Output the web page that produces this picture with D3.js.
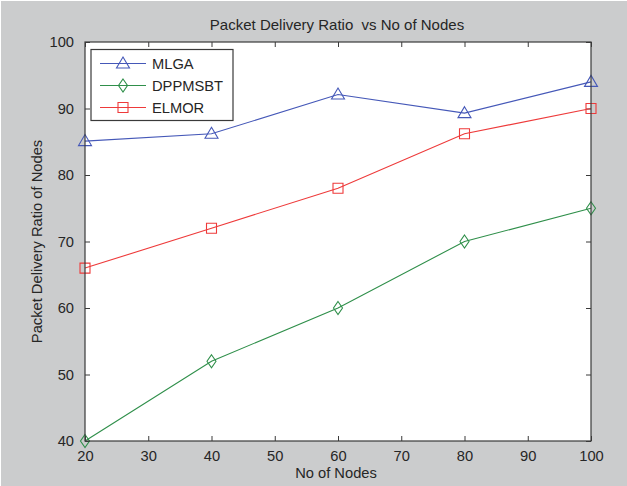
<!DOCTYPE html>
<html>
<head>
<meta charset="utf-8">
<script src="https://cdn.jsdelivr.net/npm/d3@7/dist/d3.min.js"></script>
<style>
  html, body { margin: 0; padding: 0; background: #ffffff; }
  svg { display: block; }
  text { font-family: "Liberation Sans", Arial, sans-serif; fill: #262626; white-space: pre; }
</style>
</head>
<body>
<svg id="chart" width="627" height="486"></svg>
<script>
// Number of nodes on the x axis
const nodes = [20, 40, 60, 80, 100];

// Packet delivery ratio for each protocol
const mlga    = [85.1, 86.2, 92.1, 89.3, 94.0];
const dppmsbt = [40.0, 52.0, 60.0, 70.0, 75.0];
const elmor   = [66.0, 72.0, 78.0, 86.2, 90.0];

const seriesNames = ["MLGA", "DPPMSBT", "ELMOR"];
const xTicks = [20, 30, 40, 50, 60, 70, 80, 90, 100];
const yTicks = [40, 50, 60, 70, 80, 90, 100];

const titleText = "Packet Delivery Ratio  vs No of Nodes";
const xLabel = "No of Nodes";
const yLabel = "Packet Delivery Ratio of Nodes";

const series = [
  { name: seriesNames[0], values: mlga,    color: "#4558b8", marker: "triangle" },
  { name: seriesNames[1], values: dppmsbt, color: "#2f8f4a", marker: "diamond" },
  { name: seriesNames[2], values: elmor,   color: "#ee3a3a", marker: "square" }
];

const W = 627, H = 486;
const plot = { left: 85, right: 591, top: 42, bottom: 441 };
const axisColor = "#3a3a3a";
const fontSize = 14.7;

const svg = d3.select("#chart");

// figure background
svg.append("rect").attr("x", 0).attr("y", 0).attr("width", W).attr("height", H).attr("fill", "#ffffff");
svg.append("rect").attr("x", 1).attr("y", 1).attr("width", W - 1).attr("height", H - 1).attr("fill", "#cbcccd");

const x = d3.scaleLinear().domain([20, 100]).range([plot.left, plot.right]);
const y = d3.scaleLinear().domain([40, 100]).range([plot.bottom, plot.top]);

// axes area
svg.append("rect")
  .attr("x", plot.left).attr("y", plot.top)
  .attr("width", plot.right - plot.left).attr("height", plot.bottom - plot.top)
  .attr("fill", "#ffffff");

const tickLen = 5;

// bottom axis with inward ticks
const xAxisBottom = d3.axisBottom(x).tickValues(xTicks).tickSizeInner(-tickLen).tickSizeOuter(0).tickPadding(10);
const gxb = svg.append("g").attr("transform", `translate(0,${plot.bottom})`).call(xAxisBottom);
gxb.select(".domain").remove();
gxb.selectAll("line").attr("stroke", axisColor);
gxb.selectAll("text").attr("font-size", fontSize).attr("fill", "#262626")
  .attr("font-family", "Liberation Sans, Arial, sans-serif");

// top axis ticks (no labels)
const xAxisTop = d3.axisTop(x).tickValues(xTicks).tickSizeInner(-tickLen).tickSizeOuter(0).tickFormat("");
const gxt = svg.append("g").attr("transform", `translate(0,${plot.top})`).call(xAxisTop);
gxt.select(".domain").remove();
gxt.selectAll("line").attr("stroke", axisColor);

// left axis
const yAxisLeft = d3.axisLeft(y).tickValues(yTicks).tickSizeInner(-tickLen).tickSizeOuter(0).tickPadding(11);
const gyl = svg.append("g").attr("transform", `translate(${plot.left},0)`).call(yAxisLeft);
gyl.select(".domain").remove();
gyl.selectAll("line").attr("stroke", axisColor);
gyl.selectAll("text").attr("font-size", fontSize).attr("fill", "#262626")
  .attr("font-family", "Liberation Sans, Arial, sans-serif");

// right axis ticks
const yAxisRight = d3.axisRight(y).tickValues(yTicks).tickSizeInner(-tickLen).tickSizeOuter(0).tickFormat("");
const gyr = svg.append("g").attr("transform", `translate(${plot.right},0)`).call(yAxisRight);
gyr.select(".domain").remove();
gyr.selectAll("line").attr("stroke", axisColor);

// data lines
const line = d3.line().x((d, i) => x(nodes[i])).y(d => y(d));

function markerPath(type) {
  if (type === "triangle") return "M0,-6.5 L6.5,4.5 L-6.5,4.5 Z";
  if (type === "diamond") return "M0,-6.5 L4.5,0 L0,6.5 L-4.5,0 Z";
  return "M-5,-5 L5,-5 L5,5 L-5,5 Z";
}

const plotG = svg.append("g");
series.forEach(s => {
  plotG.append("path")
    .attr("d", line(s.values))
    .attr("fill", "none")
    .attr("stroke", s.color)
    .attr("stroke-width", 1.1);
  plotG.selectAll(null).data(s.values).enter().append("path")
    .attr("d", markerPath(s.marker))
    .attr("transform", (d, i) => `translate(${x(nodes[i])},${y(d)})`)
    .attr("fill", "none")
    .attr("stroke", s.color)
    .attr("stroke-width", 1.1);
});

// axes box
svg.append("rect")
  .attr("x", plot.left).attr("y", plot.top)
  .attr("width", plot.right - plot.left).attr("height", plot.bottom - plot.top)
  .attr("fill", "none").attr("stroke", axisColor).attr("stroke-width", 1.2);

// legend
const legend = svg.append("g");
legend.append("rect")
  .attr("x", 91).attr("y", 49.5).attr("width", 142).attr("height", 71)
  .attr("fill", "#ffffff").attr("stroke", axisColor).attr("stroke-width", 1.2);
series.forEach((s, i) => {
  const ry = 63.5 + i * 22;
  legend.append("line")
    .attr("x1", 100).attr("x2", 146).attr("y1", ry).attr("y2", ry)
    .attr("stroke", s.color).attr("stroke-width", 1.1);
  legend.append("path")
    .attr("d", markerPath(s.marker))
    .attr("transform", `translate(123,${ry})`)
    .attr("fill", "none").attr("stroke", s.color).attr("stroke-width", 1.1);
  legend.append("text")
    .attr("x", 152).attr("y", ry + 5.3)
    .attr("font-size", fontSize)
    .text(s.name);
});

// title and axis labels
svg.append("text")
  .attr("x", 337).attr("y", 30)
  .attr("text-anchor", "middle")
  .attr("font-size", 15)
  .attr("xml:space", "preserve")
  .text(titleText);

svg.append("text")
  .attr("x", 336).attr("y", 478)
  .attr("text-anchor", "middle")
  .attr("font-size", fontSize)
  .text(xLabel);

svg.append("text")
  .attr("transform", `translate(42,${(plot.top + plot.bottom) / 2}) rotate(-90)`)
  .attr("text-anchor", "middle")
  .attr("font-size", fontSize)
  .text(yLabel);
</script>
</body>
</html>
